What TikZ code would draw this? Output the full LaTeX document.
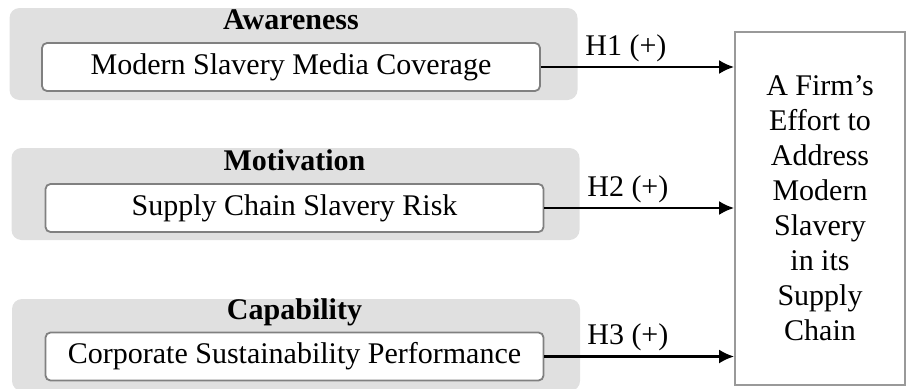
\documentclass[tikz,border=0pt]{standalone}
\usepackage{fontspec}
\setmainfont{Liberation Serif}
\usepackage{tikz}
\usetikzlibrary{arrows.meta,positioning}

\begin{document}
\begin{tikzpicture}[
  x=1pt, y=-1pt,
  font=\fontsize{30}{35}\selectfont,
  panel/.style={fill=black!12, rounded corners=10pt, minimum width=568pt,
                minimum height=92pt, inner sep=0pt},
  var/.style={draw=black!50, line width=1.8pt, fill=white, rounded corners=5pt,
              minimum width=498pt, minimum height=48pt, inner sep=0pt},
  ttl/.style={font=\fontsize{30}{35}\selectfont\bfseries},
  outcome/.style={draw=black!40, line width=1.8pt, minimum width=170pt,
                  minimum height=353pt, inner sep=0pt, align=center},
  arr/.style={-{Latex[length=15pt, width=14pt]}, line width=2.4pt},
  hyp/.style={above, pos=0.44, inner sep=4pt}
]
\useasboundingbox (0,0) rectangle (907,388);
\node[panel] (aw) at (293.5,54) {};
\node[panel] (mv) at (295.5,194) {};
\node[panel] (cp) at (296,345) {};
\node[var] (media) at (291,67) {Modern Slavery Media Coverage};
\node[var] (risk) at (294.5,208) {Supply Chain Slavery Risk};
\node[var] (csp) at (294.5,356.5) {Corporate Sustainability Performance};
\node[ttl, above=13pt of media, anchor=base] (awt) {Awareness};
\node[ttl, above=13pt of risk, anchor=base] (mvt) {Motivation};
\node[ttl, above=12pt of csp, anchor=base] (cpt) {Capability};
\node[outcome] (effort) at (820,208.5)
  {A Firm's\\Effort to\\Address\\Modern\\Slavery\\in its\\Supply\\Chain};
\draw[arr] (media) -- node[hyp] {H1 (+)} (media -| effort.west);
\draw[arr] (risk) -- node[hyp] {H2 (+)} (risk -| effort.west);
\draw[arr] (csp) -- node[hyp] {H3 (+)} (csp -| effort.west);
\end{tikzpicture}
\end{document}
